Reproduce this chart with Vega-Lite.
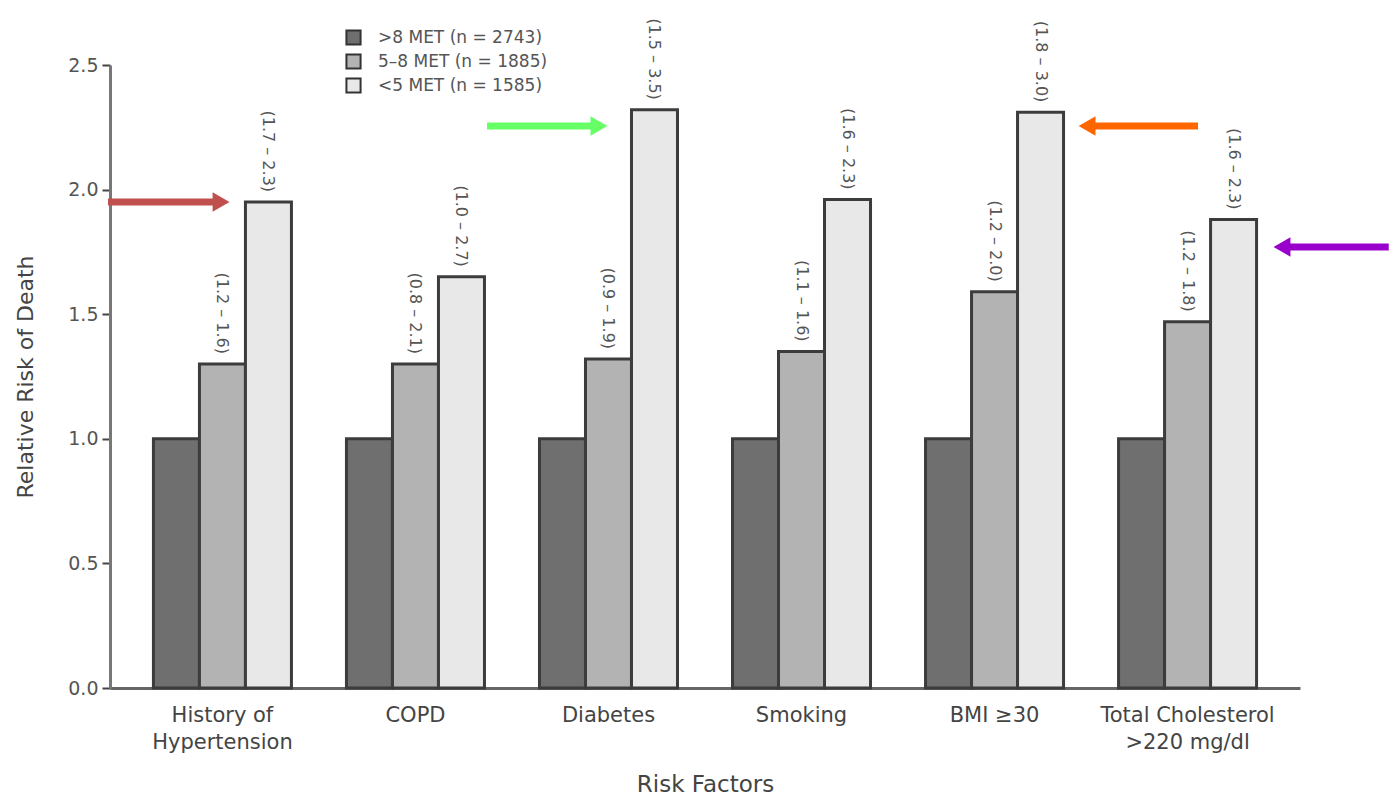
{
  "$schema": "https://vega.github.io/schema/vega-lite/v6.json",
  "width": 1190,
  "height": 623,
  "autosize": "none",
  "padding": {"left": 110, "top": 65, "right": 90, "bottom": 109},
  "background": "white",
  "config": {"font": "DejaVu Sans", "view": {"stroke": null}},
  "datasets": {
    "bars": [
      {"factor": "History of|Hypertension", "level": ">8 MET (n = 2743)", "rr": 1.0, "ci": ""},
      {"factor": "History of|Hypertension", "level": "5–8 MET (n = 1885)", "rr": 1.3, "ci": "(1.2 – 1.6)"},
      {"factor": "History of|Hypertension", "level": "<5 MET (n = 1585)", "rr": 1.95, "ci": "(1.7 – 2.3)"},
      {"factor": "COPD", "level": ">8 MET (n = 2743)", "rr": 1.0, "ci": ""},
      {"factor": "COPD", "level": "5–8 MET (n = 1885)", "rr": 1.3, "ci": "(0.8 – 2.1)"},
      {"factor": "COPD", "level": "<5 MET (n = 1585)", "rr": 1.65, "ci": "(1.0 – 2.7)"},
      {"factor": "Diabetes", "level": ">8 MET (n = 2743)", "rr": 1.0, "ci": ""},
      {"factor": "Diabetes", "level": "5–8 MET (n = 1885)", "rr": 1.32, "ci": "(0.9 – 1.9)"},
      {"factor": "Diabetes", "level": "<5 MET (n = 1585)", "rr": 2.32, "ci": "(1.5 – 3.5)"},
      {"factor": "Smoking", "level": ">8 MET (n = 2743)", "rr": 1.0, "ci": ""},
      {"factor": "Smoking", "level": "5–8 MET (n = 1885)", "rr": 1.35, "ci": "(1.1 – 1.6)"},
      {"factor": "Smoking", "level": "<5 MET (n = 1585)", "rr": 1.96, "ci": "(1.6 – 2.3)"},
      {"factor": "BMI ≥30", "level": ">8 MET (n = 2743)", "rr": 1.0, "ci": ""},
      {"factor": "BMI ≥30", "level": "5–8 MET (n = 1885)", "rr": 1.59, "ci": "(1.2 – 2.0)"},
      {"factor": "BMI ≥30", "level": "<5 MET (n = 1585)", "rr": 2.31, "ci": "(1.8 – 3.0)"},
      {"factor": "Total Cholesterol|>220 mg/dl", "level": ">8 MET (n = 2743)", "rr": 1.0, "ci": ""},
      {"factor": "Total Cholesterol|>220 mg/dl", "level": "5–8 MET (n = 1885)", "rr": 1.47, "ci": "(1.2 – 1.8)"},
      {"factor": "Total Cholesterol|>220 mg/dl", "level": "<5 MET (n = 1585)", "rr": 1.88, "ci": "(1.6 – 2.3)"}
    ],
    "arrows": [
      {"name": "red", "color": "#c0504d", "x0": -0.596, "x1": -0.05, "head": -0.01, "y": 1.95, "shape": "triangle-right"},
      {"name": "green", "color": "#66ff66", "x0": 1.368, "x1": 1.91, "head": 1.948, "y": 2.255, "shape": "triangle-right"},
      {"name": "orange", "color": "#ff6600", "x0": 5.052, "x1": 4.515, "head": 4.477, "y": 2.255, "shape": "triangle-left"},
      {"name": "purple", "color": "#9900cc", "x0": 6.04, "x1": 5.5, "head": 5.487, "y": 1.77, "shape": "triangle-left"}
    ]
  },
  "layer": [
    {
      "data": {"name": "bars"},
      "encoding": {
        "x": {
          "field": "factor",
          "type": "nominal",
          "sort": null,
          "scale": {"paddingInner": 0.285, "paddingOuter": 0.225},
          "axis": {
            "title": "Risk Factors",
            "titleFontSize": 23,
            "titleFontWeight": "normal",
            "titleColor": "#444",
            "titlePadding": 21,
            "labelExpr": "split(datum.label, '|')",
            "labelAngle": 0,
            "labelFontSize": 21,
            "labelColor": "#444",
            "labelLineHeight": 27,
            "labelPadding": 16,
            "ticks": false,
            "domainColor": "#666",
            "domainWidth": 3
          }
        },
        "xOffset": {
          "field": "level",
          "type": "nominal",
          "sort": null,
          "scale": {"domain": [">8 MET (n = 2743)", "5–8 MET (n = 1885)", "<5 MET (n = 1585)"], "paddingInner": 0, "paddingOuter": 0}
        },
        "y": {
          "field": "rr",
          "type": "quantitative",
          "scale": {"domain": [0, 2.5], "nice": false},
          "axis": {
            "title": "Relative Risk of Death",
            "titleFontSize": 22,
            "titleFontWeight": "normal",
            "titleColor": "#444",
            "titlePadding": 30,
            "values": [0, 0.5, 1, 1.5, 2, 2.5],
            "format": ".1f",
            "labelFontSize": 19,
            "labelColor": "#555",
            "labelPadding": 4,
            "tickSize": 8,
            "tickWidth": 2,
            "tickColor": "#444",
            "domainColor": "#777",
            "domainWidth": 3,
            "grid": false
          }
        }
      },
      "layer": [
        {
          "mark": {"type": "bar", "stroke": "#3c3c3c", "strokeWidth": 3},
          "encoding": {
            "fill": {
              "field": "level",
              "type": "nominal",
              "sort": null,
              "scale": {
                "domain": [">8 MET (n = 2743)", "5–8 MET (n = 1885)", "<5 MET (n = 1585)"],
                "range": ["#6f6f6f", "#b3b3b3", "#e8e8e8"]
              },
              "legend": {
                "title": null,
                "orient": "none",
                "legendX": 235,
                "legendY": -36,
                "padding": 0,
                "symbolType": "square",
                "symbolSize": 200,
                "symbolStrokeColor": "#333",
                "symbolStrokeWidth": 2,
                "labelFontSize": 17,
                "labelLimit": 400,
                "labelColor": "#555",
                "labelOffset": 16,
                "rowPadding": 1
              }
            }
          }
        },
        {
          "mark": {"type": "text", "angle": 90, "align": "right", "baseline": "middle", "dx": -10, "fontSize": 16, "color": "#555"},
          "encoding": {"text": {"field": "ci"}}
        }
      ]
    },
    {
      "data": {"name": "arrows"},
      "encoding": {
        "y": {"field": "y", "type": "quantitative"},
        "color": {"field": "color", "type": "nominal", "scale": null}
      },
      "layer": [
        {
          "mark": {"type": "rule", "strokeWidth": 7, "strokeCap": "butt"},
          "encoding": {
            "x": {"field": "x0", "type": "quantitative", "scale": {"domain": [-0.5855, 5.5803], "nice": false, "zero": false}, "axis": null},
            "x2": {"field": "x1"}
          }
        },
        {
          "mark": {"type": "point", "filled": true, "size": 380, "opacity": 1},
          "encoding": {
            "x": {"field": "head", "type": "quantitative", "axis": null},
            "shape": {"field": "shape", "type": "nominal", "scale": null}
          }
        }
      ]
    }
  ],
  "resolve": {"scale": {"x": "independent"}}
}
